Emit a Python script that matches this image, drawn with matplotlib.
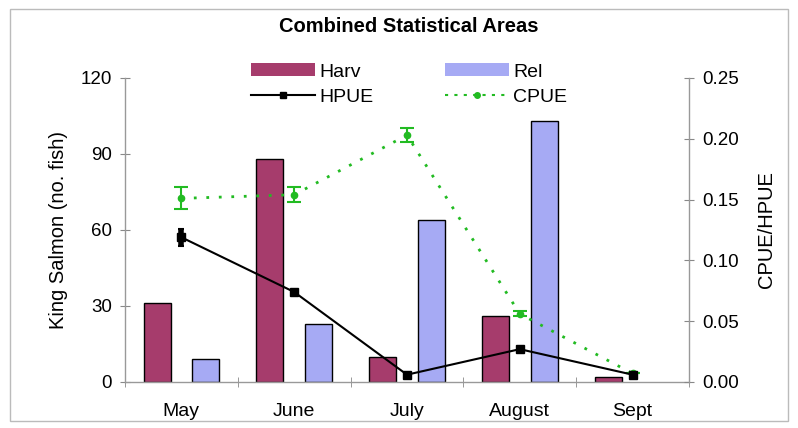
import matplotlib
matplotlib.use("Agg")
import matplotlib.pyplot as plt
import numpy as np
from matplotlib.patches import Rectangle, Patch
from matplotlib.lines import Line2D

months = ["May", "June", "July", "August", "Sept"]
harv = [31, 88, 10, 26, 2]
rel = [9, 23, 64, 103, 0]
hpue = [0.119, 0.074, 0.006, 0.027, 0.006]
hpue_err = [0.007, 0.0, 0.0, 0.0, 0.0]
cpue = [0.151, 0.154, 0.203, 0.056, 0.007]
cpue_err = [0.009, 0.006, 0.006, 0.002, 0.0]

plt.rcParams['font.family'] = ['Liberation Sans', 'DejaVu Sans']

harv_color = "#A63C6C"
rel_color = "#A6AAF4"
green = "#22BB22"

fig = plt.figure(figsize=(7.98, 4.28), dpi=100)
ax = fig.add_axes([0.1566, 0.1075, 0.7068, 0.7103])
ax2 = ax.twinx()

x = np.arange(len(months))
w = 0.24
off = 0.215
ax.bar(x - off, harv, w, color=harv_color, edgecolor="black", linewidth=1.0, zorder=2)
rel_plot = [v if v > 0 else np.nan for v in rel]
ax.bar(x + off, rel_plot, w, color=rel_color, edgecolor="black", linewidth=1.0, zorder=2)

ax.set_xlim(-0.5, len(months) - 0.5)
ax.set_ylim(0, 120)
ax.set_yticks([0, 30, 60, 90, 120])
ax.set_xticks(x)
ax.set_xticklabels(months)
ax.set_xticks(np.arange(-0.5, len(months) + 0.5, 1), minor=True)
ax.tick_params(axis='x', which='major', length=0, labelsize=14, pad=15)
ax.tick_params(axis='x', which='minor', length=7, direction='inout', color='#888888')
ax.tick_params(axis='y', length=7, direction='inout', color='#888888', labelsize=13.5, pad=6)
ax.set_ylabel("King Salmon (no. fish)", fontsize=14.5, labelpad=9)

ax2.set_ylim(0, 0.25)
ax2.set_yticks([0, 0.05, 0.10, 0.15, 0.20, 0.25])
ax2.set_yticklabels(["0.00", "0.05", "0.10", "0.15", "0.20", "0.25"])
ax2.tick_params(axis='y', length=7, direction='inout', color='#888888', labelsize=13.5, pad=6)
ax2.set_ylabel("CPUE/HPUE", fontsize=14.5, labelpad=13)

ax2.errorbar(x, cpue, yerr=cpue_err, color=green, linestyle=(0, (1, 3.5)), linewidth=2,
             marker='o', markersize=4.5, capsize=5, elinewidth=1.5, capthick=1.5, zorder=3)
ax2.errorbar(x, hpue, yerr=hpue_err, color='black', linestyle='-', linewidth=1.5,
             marker='s', markersize=5.5, capsize=2, elinewidth=4, capthick=1.5, zorder=4)

for a in (ax, ax2):
    a.spines['top'].set_visible(False)
    for s in ('left', 'right', 'bottom'):
        a.spines[s].set_color('#999999')
        a.spines[s].set_linewidth(1.0)
ax.spines['right'].set_visible(False)
ax2.spines['left'].set_visible(False)
ax2.spines['bottom'].set_visible(False)
ax.set_zorder(1)
ax2.set_zorder(2)
ax.patch.set_visible(False)

fig.text(0.512, 0.937, "Combined Statistical Areas", ha='center', va='center',
         fontsize=14.5, fontweight='bold')

h_harv = Patch(facecolor=harv_color, edgecolor='none')
h_rel = Patch(facecolor=rel_color, edgecolor='none')
h_hpue = Line2D([], [], color='black', marker='s', markersize=5, linewidth=1.5)
h_cpue = Line2D([], [], color=green, marker='o', markersize=4, linestyle=(0, (1.5, 3)), linewidth=1.5)
fig.legend([h_harv, h_hpue, h_rel, h_cpue],
           ["Harv", "HPUE", "Rel", "CPUE"],
           ncol=2, frameon=False, loc='center', bbox_to_anchor=(0.5125, 0.802),
           fontsize=14, handlelength=3.3, handleheight=0.65, columnspacing=3.7,
           labelspacing=0.42, handletextpad=0.2, borderpad=0)

fig.patches.append(Rectangle((0.0125, 0.016), 0.975, 0.963, transform=fig.transFigure,
                             fill=False, edgecolor='#BBBBBB', linewidth=1.0))

fig.savefig("out.png", dpi=100)
